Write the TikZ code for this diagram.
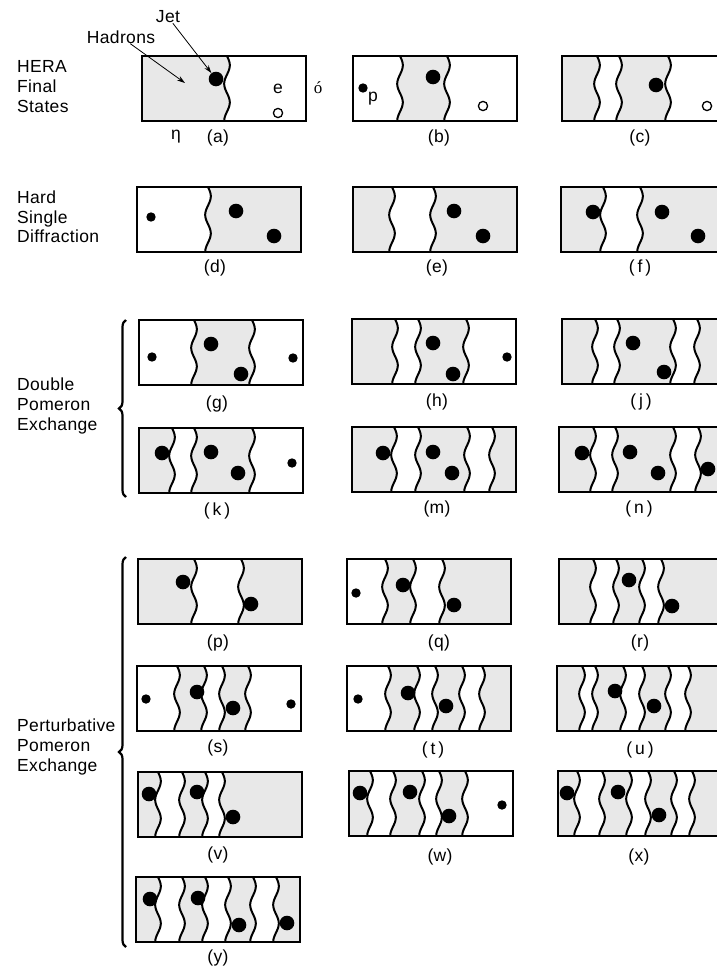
\documentclass[tikz,border=0pt]{standalone}
\usepackage{fontspec}
\setmainfont[LetterSpace=2]{Liberation Sans}
\newfontfamily\serifx{Liberation Serif}
\usetikzlibrary{decorations.pathreplacing,arrows.meta}
\definecolor{hgrey}{gray}{0.91}
\tikzset{
  panelbox/.style={draw=black, line width=1.4pt, minimum width=164pt, minimum height=65pt, inner sep=0pt, outer sep=0pt},
  wave/.style={line width=2pt, line cap=round},
  lab/.style={font=\fontsize{17.5}{20}\selectfont, inner sep=0pt},
  ttl/.style={font=\fontsize{17.5}{19.7}\selectfont, inner sep=0pt, align=left, anchor=west},
  arr/.style={-{Stealth[length=8pt,width=5pt]}, line width=0.8pt},
  bracest/.style={decorate, decoration={brace, amplitude=7pt}, line width=2.2pt}
}
\newcommand\bd[2]{\fill (#1,#2) circle (7.3);}
\newcommand\sd[2]{\fill (#1,#2) circle (4.7);}
\newcommand\od[2]{\draw[line width=1.3pt] (#1,#2) circle (4.6);}
% #1 name, #2 X, #3 Y, #4 grey intervals a/b, #5 waves, #6 dots
\newcommand\panel[6]{%
  \begin{scope}[shift={(#2,#3)}]
    \begin{scope}
      \clip (0,0) rectangle (164,65);
      \foreach \a/\b in {#4} {%
        \fill[hgrey] plot[domain=0:65,samples=40,smooth,variable=\t] ({\a-#2+2.8*sin(\t*9.7)},\t)
          -- plot[domain=65:0,samples=40,smooth,variable=\t] ({\b-#2+2.8*sin(\t*9.7)},\t) -- cycle;}
      \foreach \w in {#5} {%
        \draw[wave] plot[domain=0:65,samples=40,smooth,variable=\t] ({\w-#2+2.8*sin(\t*9.7)},\t);}
    \end{scope}
  \end{scope}
  #6
  \node[panelbox, anchor=north west] (#1) at (#2,#3) {};
}
\begin{document}
\begin{tikzpicture}[x=1pt,y=-1pt]
\useasboundingbox (0,0) rectangle (717,969);
\clip (0,0) rectangle (717,969);

% titles
\node[ttl] (hera) at (17,86.5) {HERA\\Final\\States};
\node[ttl] (hsd) at (17,217) {Hard\\Single\\Diffraction};
\node[ttl] (dpe) at (17,406) {Double\\Pomeron\\Exchange};
\node[ttl] (ppe) at (17,747) {Perturbative\\Pomeron\\Exchange};

% braces
\coordinate (b1t) at (126,320);
\coordinate (b1b) at (126,497);
\draw[bracest] (b1b) -- (b1t);
\coordinate (b2t) at (126,557);
\coordinate (b2b) at (126,947);
\draw[bracest] (b2b) -- (b2t);

% row 1
\panel{pa}{142}{56}{137/227}{227}{\od{278}{113}}
\node[circle, fill=black, inner sep=0pt, minimum size=14.6pt] (jet) at (216,79) {};
\node[lab] (te) at (278,89) {e};
\node[lab, font=\serifx\fontsize{17}{19}\selectfont] (tacc) at (318,88) {ó};
\node[lab] (tjet) at (168,17) {Jet};
\node[lab] (thad) at (121,37) {Hadrons};
\coordinate (hadpt) at (185,83);
\draw[arr] (tjet) -- (jet);
\draw[arr] (thad) -- (hadpt);
\node[lab] (teta) at (176,137) {η};
\node[lab] (la) at (218,138) {(a)};

\panel{pb}{353}{56}{400/447}{400,447}{\bd{433}{77}\sd{363}{88}\od{483}{106}}
\node[lab] (tp) at (373,99) {p};
\node[lab] (lb) at (439,138) {(b)};

\panel{pc}{562}{56}{557/597,619/668}{597,619,668}{\bd{656}{85}\od{707}{106}}
\node[lab] (lc) at (640,138) {(c)};

% row 2
\panel{pd}{137}{187}{208/307}{208}{\sd{151}{217}\bd{236}{211}\bd{274}{236}}
\node[lab] (ld) at (215,268) {(d)};
\panel{pe}{353}{187}{348/392,433/522}{392,433}{\bd{454}{211}\bd{483}{236}}
\node[lab] (le) at (437,268) {(e)};
\panel{pf}{561}{187}{556/603,640/730}{603,640}{\bd{593}{212}\bd{662}{212}\bd{698}{236}}
\node[lab] (lf) at (640,268) {(\,f\,)};

% double pomeron
\panel{pg}{139}{320}{194/252}{194,252}{\sd{152}{357}\bd{211}{344}\bd{241}{374}\sd{293}{358}}
\node[lab] (lg) at (217,404) {(g)};
\panel{ph}{352}{319}{347/395,418/466}{395,418,466}{\bd{433}{343}\bd{453}{374}\sd{507}{357}}
\node[lab] (lh) at (437,402) {(h)};
\panel{pj}{562}{319}{557/595,617/673,697/730}{595,617,673,697}{\bd{633}{343}\bd{664}{372}}
\node[lab] (lj) at (641,402) {(\,j\,)};

\panel{pk}{139}{428}{134/172,194/252}{172,194,252}{\bd{162}{453}\bd{211}{452}\bd{238}{473}\sd{292}{463}}
\node[lab] (lk) at (217,511) {(\,k\,)};
\panel{pm}{352}{427}{347/394,418/467,492/520}{394,418,467,492}{\bd{383}{453}\bd{433}{452}\bd{452}{473}}
\node[lab] (lm) at (437,509) {(m)};
\panel{pn}{559}{427}{554/593,615/673,698/730}{593,615,673,698}{\bd{582}{453}\bd{630}{452}\bd{658}{473}\bd{708}{469}}
\node[lab] (ln) at (639,509) {(\,n\,)};

% perturbative pomeron
\panel{pp}{138}{559}{133/194,241/307}{194,241}{\bd{183}{582}\bd{251}{604}}
\node[lab] (lp) at (218,643) {(p)};
\panel{pq}{347}{559}{385/413,442/515}{385,413,442}{\sd{356}{593}\bd{403}{585}\bd{454}{605}}
\node[lab] (lq) at (439,643) {(q)};
\panel{pr}{559}{559}{554/593,616/642,661/730}{593,616,642,661}{\bd{629}{580}\bd{672}{606}}
\node[lab] (lr) at (640,643) {(r)};

\panel{ps}{137}{666}{177/204,222/248}{177,204,222,248}{\sd{146}{699}\sd{291}{704}\bd{197}{692}\bd{233}{708}}
\node[lab] (ls) at (218,748) {(s)};
\panel{pt}{347}{666}{388/417,435/462,482/520}{388,417,435,462,482}{\sd{358}{699}\bd{408}{693}\bd{446}{706}}
\node[lab] (lt) at (433,750) {(\,t\,)};
\panel{pu}{557}{666}{552/582,595/623,642/668,688/730}{582,595,623,642,668,688}{\bd{615}{691}\bd{654}{706}}
\node[lab] (lu) at (640,750) {(\,u\,)};

\panel{pv}{138}{772}{133/158,182/205,222/305}{158,182,205,222}{\bd{149}{794}\bd{197}{792}\bd{233}{817}}
\node[lab] (lv) at (218,855) {(v)};
\panel{pw}{349}{771}{344/370,393/422,439/465}{370,393,422,439,465}{\bd{360}{793}\bd{410}{792}\bd{449}{816}\sd{502}{805}}
\node[lab] (lw) at (440,857) {(w)};
\panel{px}{558}{771}{553/577,602/629,648/674,692/730}{577,602,629,648,674,692}{\bd{567}{793}\bd{618}{792}\bd{659}{815}}
\node[lab] (lx) at (639,857) {(x)};

\panel{py}{136}{877}{131/158,182/205,228/253,276/305}{158,182,205,228,253,276}{\bd{150}{899}\bd{198}{898}\bd{239}{925}\bd{287}{923}}
\node[lab] (ly) at (218,958) {(y)};
\end{tikzpicture}
\end{document}
